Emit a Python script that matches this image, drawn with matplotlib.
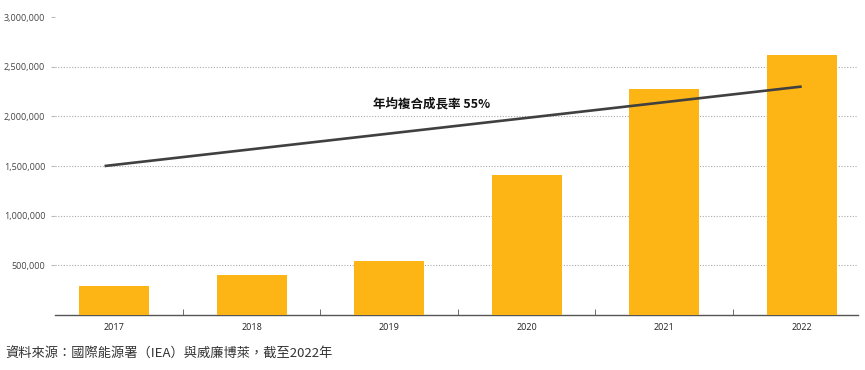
import matplotlib.pyplot as plt
from matplotlib.ticker import FuncFormatter, FixedLocator

plt.rcParams['font.family'] = ['Open Sans', 'Noto Sans CJK TC', 'DejaVu Sans']

years = ['2017', '2018', '2019', '2020', '2021', '2022']
values = [290000, 405000, 545000, 1410000, 2280000, 2620000]

# trend line (CAGR 55%)
trend_x = [-0.07, 5.0]
trend_y = [1500000, 2300000]

fig = plt.figure(figsize=(8.65, 3.70), dpi=100)
ax = fig.add_axes([0.0636, 0.1486, 0.9284, 0.8054])

x = range(len(years))
ax.bar(x, values, width=0.51, color='#FDB515', zorder=3)
ax.plot(trend_x, trend_y, color='#404040', linewidth=1.9, zorder=4, solid_capstyle='butt')

ax.text(2.31, 2120000, '年均複合成長率 55%', fontsize=9, fontweight='bold',
        ha='center', va='center', family=['Noto Sans CJK TC', 'DejaVu Sans'], color='#111111')

ax.set_xlim(-0.43, 5.41)
ax.set_ylim(0, 3000000)
ax.set_yticks([500000, 1000000, 1500000, 2000000, 2500000, 3000000])
ax.yaxis.set_major_formatter(FuncFormatter(lambda v, p: f'{int(v):,}'))
ax.yaxis.grid(True, linestyle=(0, (1, 1.5)), color='#aaaaaa', linewidth=0.8, zorder=0)
# no gridline at the top value
ax.yaxis.get_gridlines()[-1].set_visible(False)

ax.set_xticks(list(x))
ax.set_xticklabels(years)
ax.xaxis.set_minor_locator(FixedLocator([0.5, 1.5, 2.5, 3.5, 4.5]))
ax.tick_params(axis='x', which='major', length=0, labelsize=6.5, pad=6, colors='#222222')
ax.tick_params(axis='x', which='minor', length=4, direction='in', color='#555555')
ax.tick_params(axis='y', length=3, labelsize=6.5, colors='#444444', pad=4, color='#bbbbbb')

for s in ['top', 'right', 'left']:
    ax.spines[s].set_visible(False)
ax.spines['bottom'].set_color('#555555')
ax.spines['bottom'].set_linewidth(1.0)

fig.text(0.006, 0.042, '資料來源：國際能源署（IEA）與威廉博萊，截至2022年', fontsize=9.5,
         color='#333333', family=['Noto Sans CJK TC', 'DejaVu Sans'], va='center')

fig.savefig('out.png', dpi=100)
